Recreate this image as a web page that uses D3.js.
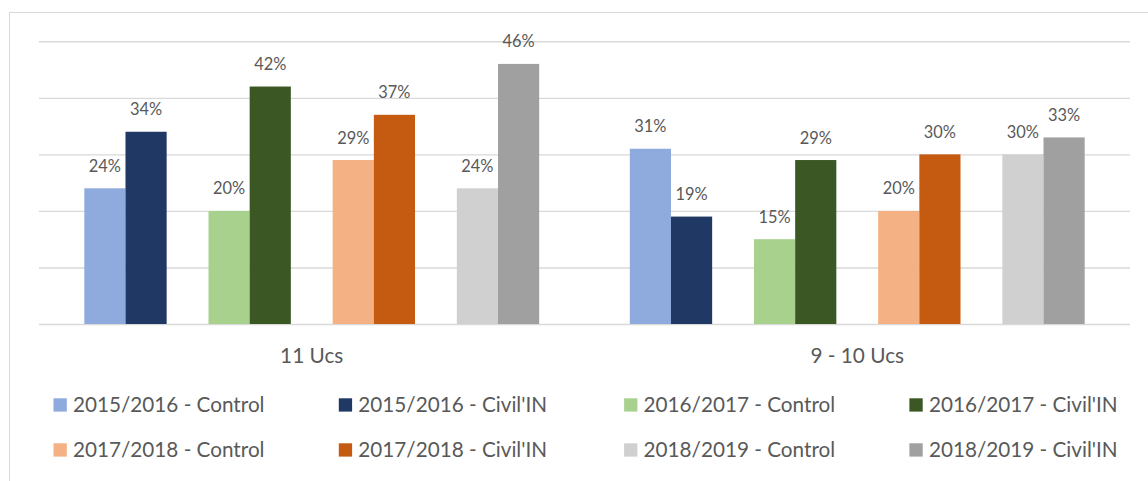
<!DOCTYPE html>
<html>
<head>
<meta charset="utf-8">
<script src="https://cdn.jsdelivr.net/npm/d3@7"></script>
<style>
  body { margin: 0; background: #fff; }
  text { font-family: Lato, "Open Sans", sans-serif; fill: #595959; }
</style>
</head>
<body>
<svg id="chart" width="1148" height="481"></svg>
<script>
var categories = ["11 Ucs", "9 - 10 Ucs"];
var seasons = ["2015/2016", "2016/2017", "2017/2018", "2018/2019"];
var groups = ["Control", "Civil'IN"];

// one row per season, one value per category
var controlValues = [
  [0.24, 0.31],
  [0.20, 0.15],
  [0.29, 0.20],
  [0.24, 0.30]
];
var civilValues = [
  [0.34, 0.19],
  [0.42, 0.29],
  [0.37, 0.30],
  [0.46, 0.33]
];

var colors = {
  "2015/2016": ["#8faadc", "#203864"],
  "2016/2017": ["#a9d18e", "#3a5724"],
  "2017/2018": ["#f4b183", "#c55a11"],
  "2018/2019": ["#d0d0d0", "#a0a0a0"]
};

var svg = d3.select("#chart");

// outer chart frame (runs off the picture at right and bottom)
svg.append("rect")
  .attr("x", 9.5).attr("y", 12.5)
  .attr("width", 1200).attr("height", 500)
  .attr("fill", "none")
  .attr("stroke", "#d9d9d9")
  .attr("stroke-width", 1);

var plot = { left: 39, right: 1130, top: 41.3, bottom: 324 };

var y = d3.scaleLinear()
  .domain([0, 0.5])
  .range([plot.bottom, plot.top]);

var x0 = d3.scaleBand()
  .domain(categories)
  .range([plot.left, plot.right]);

var xPair = d3.scaleBand()
  .domain(seasons)
  .range([0, x0.bandwidth()])
  .paddingInner(0.337)
  .paddingOuter(0.365);

var xSub = d3.scaleBand()
  .domain(groups)
  .range([0, xPair.bandwidth()]);

var grid = svg.append("g")
  .attr("transform", "translate(" + plot.left + ",0)")
  .call(d3.axisLeft(y)
    .ticks(5)
    .tickSize(-(plot.right - plot.left))
    .tickFormat(""));
grid.select(".domain").remove();
grid.selectAll(".tick line")
  .attr("stroke", "#d9d9d9")
  .attr("stroke-width", 1.4);

var bars = [];
seasons.forEach(function(season, s) {
  categories.forEach(function(cat, c) {
    bars.push({ cat: cat, season: season, group: groups[0], value: controlValues[s][c], color: colors[season][0] });
    bars.push({ cat: cat, season: season, group: groups[1], value: civilValues[s][c], color: colors[season][1] });
  });
});

function barX(d) {
  return x0(d.cat) + xPair(d.season) + xSub(d.group);
}

svg.append("g").selectAll("rect")
  .data(bars)
  .enter().append("rect")
    .attr("x", barX)
    .attr("y", function(d) { return y(d.value); })
    .attr("width", xSub.bandwidth())
    .attr("height", function(d) { return y(0) - y(d.value); })
    .attr("fill", function(d) { return d.color; });

svg.append("g").selectAll("text")
  .data(bars)
  .enter().append("text")
    .attr("x", function(d) { return barX(d) + xSub.bandwidth() / 2; })
    .attr("y", function(d) { return y(d.value) - 16.5; })
    .attr("text-anchor", "middle")
    .style("font-size", "16.4px")
    .text(function(d) { return d3.format(".0%")(d.value); });

svg.append("g").selectAll("text")
  .data(categories)
  .enter().append("text")
    .attr("x", function(d) { return x0(d) + x0.bandwidth() / 2; })
    .attr("y", 363)
    .attr("text-anchor", "middle")
    .style("font-size", "20.8px")
    .text(function(d) { return d; });

// legend: 4 columns, 2 rows
var legendItems = [];
seasons.forEach(function(season) {
  groups.forEach(function(group, g) {
    legendItems.push({ label: season + " - " + group, color: colors[season][g] });
  });
});

var legend = svg.append("g").selectAll("g")
  .data(legendItems)
  .enter().append("g")
    .attr("transform", function(d, i) {
      return "translate(" + (53.5 + (i % 4) * 285.3) + "," + (398.3 + Math.floor(i / 4) * 45) + ")";
    });

legend.append("rect")
  .attr("width", 13.3)
  .attr("height", 13.3)
  .attr("fill", function(d) { return d.color; });

legend.append("text")
  .attr("x", 19.5)
  .attr("y", 14)
  .style("font-size", "20.7px")
  .text(function(d) { return d.label; });
</script>
</body>
</html>
